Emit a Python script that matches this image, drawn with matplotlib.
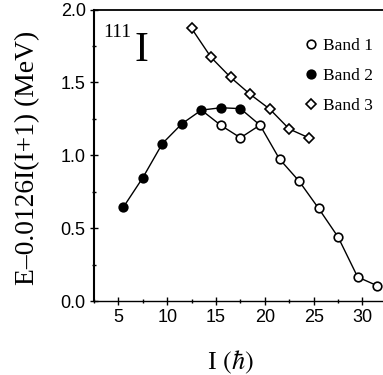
import numpy as np
import matplotlib
matplotlib.use('Agg')
import matplotlib.pyplot as plt
from matplotlib.ticker import MultipleLocator

plt.rcParams['mathtext.fontset'] = 'stix'

# data
band1_I = [15.5, 17.5, 19.5, 21.5, 23.5, 25.5, 27.5, 29.5, 31.5]
band1_E = [1.205, 1.12, 1.207, 0.974, 0.823, 0.636, 0.439, 0.165, 0.105]
band2_I = [5.5, 7.5, 9.5, 11.5, 13.5, 15.5, 17.5]
band2_E = [0.643, 0.846, 1.08, 1.216, 1.31, 1.326, 1.32]
band3_I = [12.5, 14.5, 16.5, 18.5, 20.5, 22.5, 24.5]
band3_E = [1.87, 1.671, 1.534, 1.418, 1.317, 1.18, 1.12]

fig = plt.figure(figsize=(3.83, 3.75), dpi=100)
ax = fig.add_axes([0.2454, 0.1973, 0.7546, 0.7773])

# connecting lines (band 1 starts from band 2 at 13.5, band 2 ends on band 1 at 19.5)
l1_x = [band2_I[4]] + band1_I
l1_y = [band2_E[4]] + band1_E
l2_x = band2_I + [band1_I[2]]
l2_y = band2_E + [band1_E[2]]
ax.plot(l1_x, l1_y, color='black', lw=1.0, zorder=2, clip_on=False)
ax.plot(l2_x, l2_y, color='black', lw=1.0, zorder=2, clip_on=False)
ax.plot(band3_I, band3_E, color='black', lw=1.0, zorder=2, clip_on=False)

# markers
ax.plot(band1_I, band1_E, 'o', ms=6.2, mfc='white', mec='black', mew=1.2,
        ls='none', zorder=3, clip_on=False, label='Band 1')
ax.plot(band2_I, band2_E, 'o', ms=6.2, mfc='black', mec='black', mew=1.2,
        ls='none', zorder=4, clip_on=False, label='Band 2')
ax.plot(band3_I, band3_E, 'D', ms=5.2, mfc='white', mec='black', mew=1.2,
        ls='none', zorder=3, clip_on=False, label='Band 3')

ax.set_xlim(2.5, 32.1)
ax.set_ylim(0, 2.0)
ax.xaxis.set_major_locator(MultipleLocator(5))
ax.xaxis.set_minor_locator(MultipleLocator(2.5))
ax.yaxis.set_major_locator(MultipleLocator(0.5))
ax.yaxis.set_minor_locator(MultipleLocator(0.25))
ax.tick_params(which='major', direction='inout', length=6, width=1.0,
               labelsize=13, top=False, right=False, pad=3)
ax.tick_params(which='minor', direction='inout', length=3, width=1.0,
               top=False, right=False)
for lab in ax.get_xticklabels() + ax.get_yticklabels():
    lab.set_family('Liberation Sans')

ax.spines['right'].set_visible(False)
ax.spines['left'].set_linewidth(1.5)
ax.spines['top'].set_linewidth(1.3)
ax.spines['bottom'].set_linewidth(1.0)

ax.set_xlabel(r'I $(\hbar)$', fontsize=19, family='Liberation Serif')
ax.set_ylabel('E\u20130.0126I(I+1) (MeV)', fontsize=19.8, family='Liberation Serif')
ax.xaxis.set_label_coords(0.472, -0.165)
ax.yaxis.set_label_coords(-0.187, 0.492)

# nucleus label
ax.text(3.4, 1.81, '111', fontsize=14, family='Liberation Serif')
ax.text(6.66, 1.646, 'I', fontsize=30, family='Liberation Serif')

leg = ax.legend(loc='upper right', bbox_to_anchor=(0.99, 0.928), frameon=False,
                prop={'family': 'Liberation Serif', 'size': 12.5},
                handlelength=0.6, handletextpad=0.4, labelspacing=0.8,
                borderaxespad=0)

fig.savefig('out.png', dpi=100)
